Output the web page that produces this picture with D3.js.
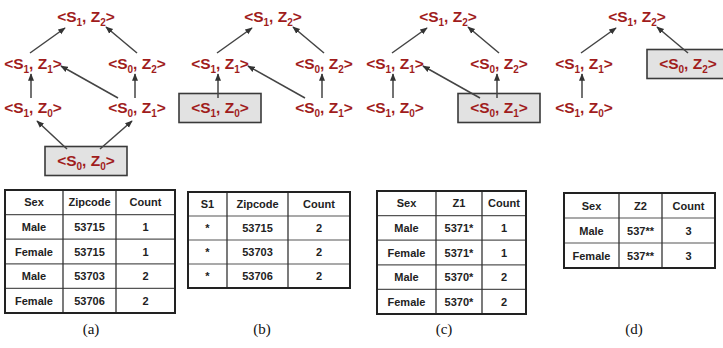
<!DOCTYPE html>
<html>
<head>
<meta charset="utf-8">
<script src="https://cdn.jsdelivr.net/npm/d3@7"></script>
<style>
html,body{margin:0;padding:0;background:#fff;}
svg{display:block;}
</style>
</head>
<body>
<svg id="chart" width="723" height="348"></svg>
<script>
// ---------- data ----------
const panelLabels = ["(a)", "(b)", "(c)", "(d)"];
const nodeIds   = ["S1Z2", "S1Z1", "S0Z2", "S1Z0", "S0Z1", "S0Z0"];
const nodeS     = [1, 1, 0, 1, 0, 0];
const nodeZ     = [2, 1, 2, 0, 1, 0];
const nodeCol   = [0, -1, 1, -1, 1, 0];
const edgeFrom  = ["S1Z1", "S0Z2", "S1Z0", "S0Z1", "S0Z1", "S0Z0", "S0Z0"];
const edgeTo    = ["S1Z2", "S1Z2", "S1Z1", "S1Z1", "S0Z2", "S1Z0", "S0Z1"];
const panelNodes = [
  ["S1Z2", "S1Z1", "S0Z2", "S1Z0", "S0Z1", "S0Z0"],
  ["S1Z2", "S1Z1", "S0Z2", "S1Z0", "S0Z1"],
  ["S1Z2", "S1Z1", "S0Z2", "S1Z0", "S0Z1"],
  ["S1Z2", "S1Z1", "S0Z2", "S1Z0"]
];
const panelHighlight = ["S0Z0", "S1Z0", "S0Z1", "S0Z2"];

const tableHeaders = [
  ["Sex", "Zipcode", "Count"],
  ["S1", "Zipcode", "Count"],
  ["Sex", "Z1", "Count"],
  ["Sex", "Z2", "Count"]
];
const tableRows = [
  [["Male", "53715", "1"], ["Female", "53715", "1"], ["Male", "53703", "2"], ["Female", "53706", "2"]],
  [["*", "53715", "2"], ["*", "53703", "2"], ["*", "53706", "2"]],
  [["Male", "5371*", "1"], ["Female", "5371*", "1"], ["Male", "5370*", "2"], ["Female", "5370*", "2"]],
  [["Male", "537**", "3"], ["Female", "537**", "3"]]
];

// ---------- layout ----------
const panelOffset = [0, 187, 362, 551];
const labelX = [91, 262, 444, 634];
const tableLayout = [
  {left: 5,   widths: [58, 53, 59], top: 190, rowH: 24.6},
  {left: 188, widths: [39, 61, 62], top: 192, rowH: 24},
  {left: 377, widths: [59, 46, 44], top: 191, rowH: 24.6},
  {left: 564, widths: [55, 43, 53], top: 193, rowH: 25}
];

const svg = d3.select("#chart");
const red = "#a01c1c";

const xCol = d3.scaleLinear().domain([-1, 0, 1]).range([33, 86, 137]);
const yLevel = d3.scaleLinear().domain([0, 1, 2, 3]).range([161, 108, 64, 17]);

svg.append("defs").append("marker")
  .attr("id", "arr").attr("viewBox", "0 0 10 10")
  .attr("refX", 9).attr("refY", 5)
  .attr("markerWidth", 5).attr("markerHeight", 5)
  .attr("markerUnits", "strokeWidth")
  .attr("orient", "auto")
  .append("path").attr("d", "M0,1 L10,5 L0,9 Z").attr("fill", "#333");

function nodeInfo(id, p) {
  const i = nodeIds.indexOf(id);
  const level = nodeS[i] + nodeZ[i];
  return {id, s: nodeS[i], z: nodeZ[i], col: nodeCol[i], level,
          x: panelOffset[p] + xCol(nodeCol[i]), y: yLevel(level)};
}

function edgeGeom(a, b) {
  const dx = b.col - a.col;
  if (dx === 0) return [a.x - 2, a.y - 10, b.x - 2, b.y + 10];
  if (a.level === 0) {
    return dx < 0 ? [a.x - 19, a.y - 12, b.x + 4, b.y + 13]
                  : [a.x + 14, a.y - 12, b.x - 5, b.y + 13];
  }
  if (dx === -2) return [a.x - 19, a.y - 10, b.x + 28, b.y + 2];
  if (dx === 1) return [a.x - 3, a.y - 11, b.x - 21, b.y + 11];
  return [a.x, a.y - 11, b.x + 20, b.y + 10];
}

panelLabels.forEach((lab, p) => {
  const g = svg.append("g");
  const present = panelNodes[p];
  const nodes = present.map(id => nodeInfo(id, p));
  const edges = edgeFrom.map((f, k) => [f, edgeTo[k]])
    .filter(e => present.includes(e[0]) && present.includes(e[1]))
    .map(e => edgeGeom(nodeInfo(e[0], p), nodeInfo(e[1], p)));

  // highlight box
  const hn = nodeInfo(panelHighlight[p], p);
  g.append("rect")
    .attr("x", hn.x - 41).attr("y", hn.y - 14.5)
    .attr("width", 82).attr("height", 29)
    .attr("fill", "#e2e2e2").attr("stroke", "#3a3a3a").attr("stroke-width", 1.6);

  g.selectAll("line.edge").data(edges).enter().append("line")
    .attr("class", "edge")
    .attr("x1", d => d[0]).attr("y1", d => d[1])
    .attr("x2", d => d[2]).attr("y2", d => d[3])
    .attr("stroke", "#444").attr("stroke-width", 1.5)
    .attr("marker-end", "url(#arr)");

  const t = g.selectAll("text.node").data(nodes).enter().append("text")
    .attr("class", "node")
    .attr("x", d => d.x).attr("y", d => d.y + 5)
    .attr("text-anchor", "middle")
    .attr("font-family", "'Liberation Sans', Arial, sans-serif")
    .attr("font-weight", "bold").attr("font-size", 15.5)
    .attr("fill", red);
  t.append("tspan").text("<S");
  t.append("tspan").attr("dy", 4).attr("font-size", 10).text(d => d.s);
  t.append("tspan").attr("dy", -4).text(", Z");
  t.append("tspan").attr("dy", 4).attr("font-size", 10).text(d => d.z);
  t.append("tspan").attr("dy", -4).text(">");

  // table
  const L = tableLayout[p];
  const xs = [L.left];
  L.widths.forEach(w => xs.push(xs[xs.length - 1] + w));
  const allRows = [tableHeaders[p]].concat(tableRows[p]);
  const H = L.rowH * allRows.length;
  const tg = g.append("g");
  allRows.forEach((row, r) => {
    if (r > 0) tg.append("line")
      .attr("x1", xs[0]).attr("x2", xs[3])
      .attr("y1", L.top + r * L.rowH).attr("y2", L.top + r * L.rowH)
      .attr("stroke", "#555").attr("stroke-width", 1.2);
    row.forEach((cell, c) => {
      tg.append("text")
        .attr("x", (xs[c] + xs[c + 1]) / 2)
        .attr("y", L.top + r * L.rowH + L.rowH / 2 + 4)
        .attr("text-anchor", "middle")
        .attr("font-family", "'Liberation Sans', Arial, sans-serif")
        .attr("font-weight", "bold").attr("font-size", 11)
        .attr("fill", "#222").text(cell);
    });
  });
  [1, 2].forEach(c => tg.append("line")
    .attr("x1", xs[c]).attr("x2", xs[c])
    .attr("y1", L.top).attr("y2", L.top + H)
    .attr("stroke", "#333").attr("stroke-width", 1.3));
  tg.append("rect")
    .attr("x", xs[0]).attr("y", L.top)
    .attr("width", xs[3] - xs[0]).attr("height", H)
    .attr("fill", "none").attr("stroke", "#222").attr("stroke-width", 2);

  svg.append("text")
    .attr("x", labelX[p]).attr("y", 334)
    .attr("text-anchor", "middle")
    .attr("font-family", "'Liberation Serif', 'Times New Roman', serif")
    .attr("font-size", 15).attr("fill", "#111")
    .text(lab);
});
</script>
</body>
</html>
